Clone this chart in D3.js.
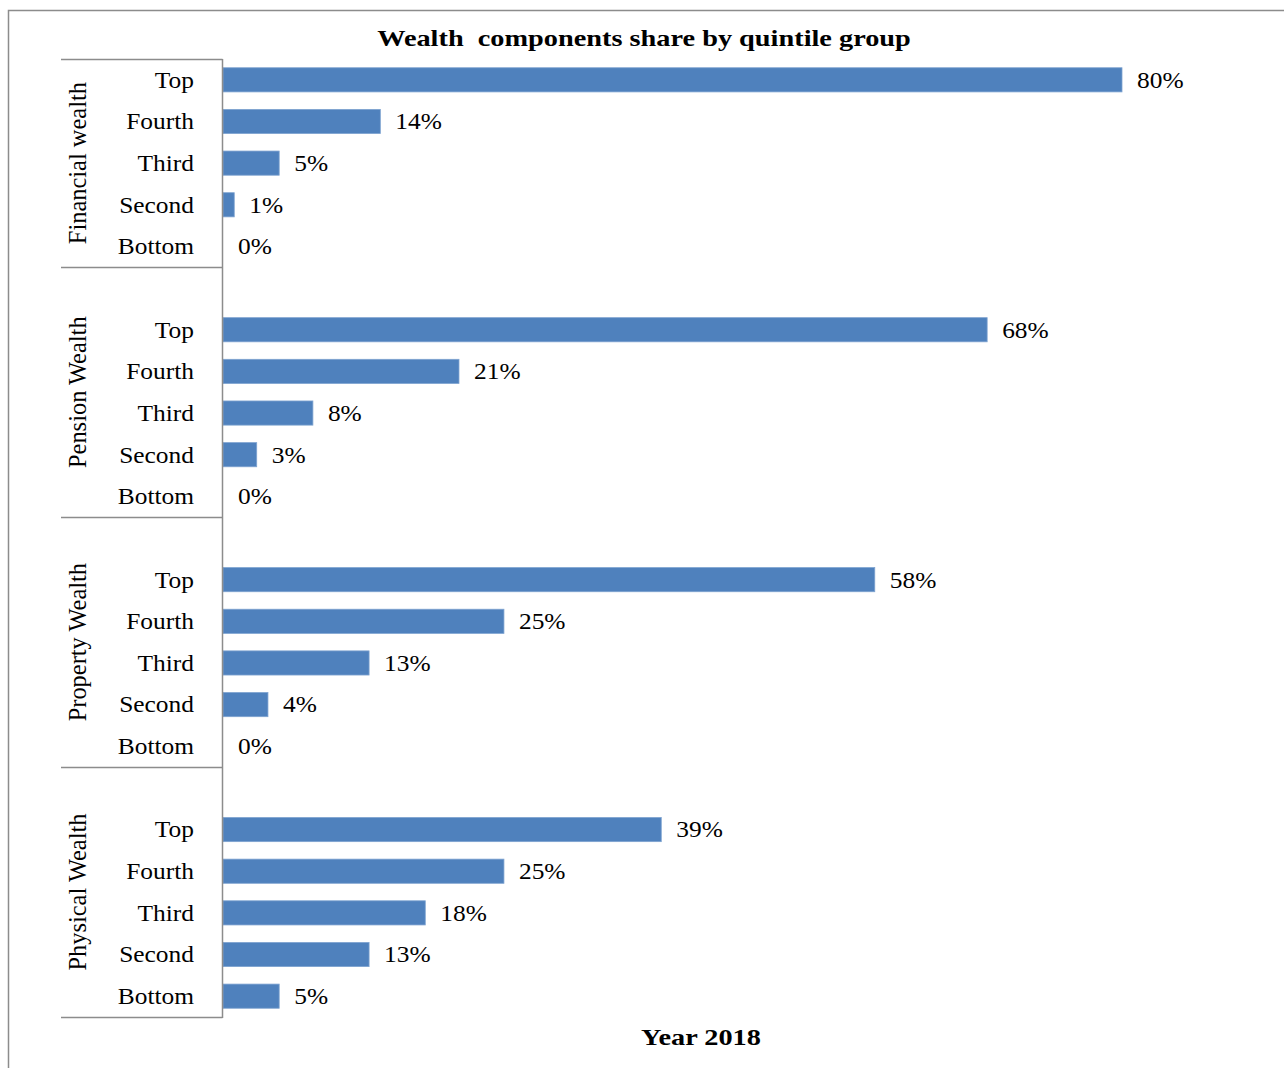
<!DOCTYPE html>
<html>
<head>
<meta charset="utf-8">
<script src="https://cdn.jsdelivr.net/npm/d3@7"></script>
<style>
  html, body { margin: 0; padding: 0; background: #fff; }
  svg { display: block; }
</style>
</head>
<body>
<script>
// Wealth components share by quintile group, 2018
const groups = ["Financial wealth", "Pension Wealth", "Property Wealth", "Physical Wealth"];
const quintiles = ["Top", "Fourth", "Third", "Second", "Bottom"];
const financialShare = [80, 14, 5, 1, 0];
const pensionShare = [68, 21, 8, 3, 0];
const propertyShare = [58, 25, 13, 4, 0];
const physicalShare = [39, 25, 18, 13, 5];
const chartTitle = "Wealth  components share by quintile group";
const xAxisTitle = "Year 2018";

const seriesByGroup = [financialShare, pensionShare, propertyShare, physicalShare];

const W = 1284, H = 1068;
const serif = "'Liberation Serif', 'Times New Roman', serif";
const barColor = "#4F81BD";
const lineColor = "#8c8c8c";
const wide = 1.13;      // horizontal widening of the label face
const wideBold = 1.18;

// One row per quintile, plus an empty spacer row before each group after the first
const rows = [];
groups.forEach((g, gi) => {
  if (gi > 0) rows.push({ key: "gap" + gi, group: g, gap: true });
  quintiles.forEach((q, qi) => {
    rows.push({ key: g + "|" + q, group: g, quintile: q, value: seriesByGroup[gi][qi], gap: false });
  });
});

const y = d3.scaleBand()
  .domain(rows.map(r => r.key))
  .range([59, 1017])
  .paddingInner(0.42)
  .paddingOuter(0.21);

const x = d3.scaleLinear().domain([0, 80]).range([223, 1122]);

const svg = d3.select("body").append("svg")
  .attr("width", W).attr("height", H);

// Outer chart frame (top and left edges)
svg.append("path")
  .attr("d", `M8.5,${H} L8.5,10.5 L${W},10.5`)
  .attr("fill", "none")
  .attr("stroke", lineColor)
  .attr("stroke-width", 1.5);

// Title
svg.append("text")
  .attr("transform", `translate(644,46) scale(${wideBold},1)`)
  .attr("text-anchor", "middle")
  .attr("font-family", serif)
  .attr("font-size", 24)
  .attr("font-weight", "bold")
  .style("white-space", "pre")
  .attr("fill", "#000")
  .text(chartTitle);

const step = y.step();
const gapHalf = (step - y.bandwidth()) / 2;
const rowTop = key => y(key) - gapHalf;
const rowBottom = key => y(key) + y.bandwidth() + gapHalf;
const mid = key => y(key) + y.bandwidth() / 2;

// Bars
svg.append("g").selectAll("rect")
  .data(rows.filter(r => !r.gap))
  .join("rect")
  .attr("x", x(0))
  .attr("y", d => y(d.key))
  .attr("width", d => x(d.value) - x(0))
  .attr("height", y.bandwidth())
  .attr("fill", barColor)
  .attr("stroke", "#7ea3d0")
  .attr("stroke-width", d => d.value > 0 ? 0.8 : 0);

// Value labels
svg.append("g").selectAll("text")
  .data(rows.filter(r => !r.gap))
  .join("text")
  .attr("transform", d => `translate(${x(d.value) + 15},${mid(d.key)}) scale(${wide},1)`)
  .attr("dy", "0.35em")
  .attr("font-family", serif)
  .attr("font-size", 22.5)
  .attr("fill", "#000")
  .text(d => d.value + "%");

// Category (quintile) labels
svg.append("g").selectAll("text")
  .data(rows.filter(r => !r.gap))
  .join("text")
  .attr("transform", d => `translate(194,${mid(d.key)}) scale(${wide},1)`)
  .attr("dy", "0.35em")
  .attr("text-anchor", "end")
  .attr("font-family", serif)
  .attr("font-size", 22.5)
  .attr("fill", "#000")
  .text(d => d.quintile);

// Vertical category axis line
const axisTop = rowTop(rows[0].key);
const axisBottom = rowBottom(rows[rows.length - 1].key);
svg.append("line")
  .attr("x1", 222.5).attr("x2", 222.5)
  .attr("y1", axisTop).attr("y2", axisBottom + 1)
  .attr("stroke", lineColor).attr("stroke-width", 1.5);

// Group boundaries and group labels
const bounds = [axisTop];
groups.forEach(g => bounds.push(rowBottom(g + "|" + quintiles[quintiles.length - 1])));

svg.append("g").selectAll("line")
  .data(bounds)
  .join("line")
  .attr("x1", 61).attr("x2", 222.5)
  .attr("y1", d => Math.round(d) + 0.5)
  .attr("y2", d => Math.round(d) + 0.5)
  .attr("stroke", lineColor).attr("stroke-width", 1.5);

svg.append("g").selectAll("text")
  .data(groups)
  .join("text")
  .attr("transform", (g, i) => `translate(77,${(bounds[i] + bounds[i + 1]) / 2}) rotate(-90) scale(1.04,1.08)`)
  .attr("dy", "0.35em")
  .attr("text-anchor", "middle")
  .attr("font-family", serif)
  .attr("font-size", 23.5)
  .attr("fill", "#000")
  .text(g => g);

// Value axis title
svg.append("text")
  .attr("transform", `translate(701,1045) scale(${wideBold},1)`)
  .attr("text-anchor", "middle")
  .attr("font-family", serif)
  .attr("font-size", 24)
  .attr("font-weight", "bold")
  .attr("fill", "#000")
  .text(xAxisTitle);
</script>
</body>
</html>
